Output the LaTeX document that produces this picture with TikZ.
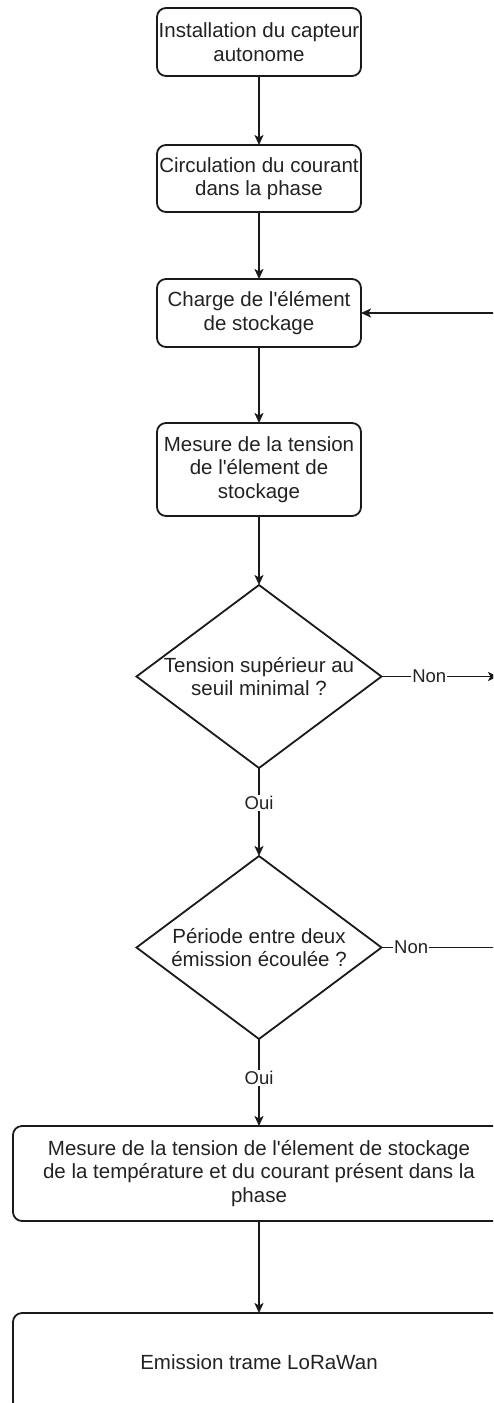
\documentclass[tikz,border=0pt]{standalone}
\usepackage{fontspec}
\setmainfont{Liberation Sans}[Ligatures=TeXOff]
\usepackage{xcolor}
\usepackage{tikz}
\usetikzlibrary{shapes.geometric,arrows.meta}
\definecolor{flowLine}{HTML}{1A1A1A}
\definecolor{flowText}{HTML}{222222}

\begin{document}
\begin{tikzpicture}[
  x=1pt, y=-1pt,
  >={Stealth[length=10pt, width=9pt, inset=2.5pt]},
  line width=1.8pt,
  link/.style={draw=flowLine},
  process/.style={draw=flowLine, rounded corners=9pt, minimum width=204pt,
    inner sep=0pt, outer sep=0pt, align=center, text=flowText,
    font=\fontsize{20.5}{23.5}\selectfont},
  wide process/.style={process, minimum width=492pt},
  decision/.style={diamond, draw=flowLine, minimum width=245pt,
    minimum height=183pt, inner sep=0pt, outer sep=0pt},
  decision text/.style={align=center, text=flowText, inner sep=0pt,
    font=\fontsize{20.5}{23.5}\selectfont},
  branch label/.style={fill=white, inner sep=1pt, text=flowText,
    font=\fontsize{18.5}{20}\selectfont},
]
\useasboundingbox (0,0) rectangle (493,1403);
\clip (0,0) rectangle (493,1403);

% main column
\node[process, minimum height=68pt] (install) at (259,42) {Installation du capteur\\autonome};
\node[process, minimum height=67pt] (courant) at (259,178.5) {Circulation du courant\\dans la phase};
\node[process, minimum height=68pt] (charge) at (259,313) {Charge de l'élément\\de stockage};
\node[process, minimum height=93pt] (tension) at (259,469.5) {Mesure de la tension\\de l'élement de\\stockage};

% tests
\node[decision] (seuil) at (259,676.5) {};
\node[decision text] (seuiltxt) at (seuil) {Tension supérieur au\\seuil minimal ?};
\node[decision] (periode) at (259,947.5) {};
\node[decision text] (periodetxt) at (periode) {Période entre deux\\émission écoulée ?};

% measurement and emission
\node[wide process, minimum height=95pt] (acquis) at (259,1173.5) {Mesure de la tension de l'élement de stockage\\de la température et du courant présent dans la\\phase};
\node[wide process, minimum height=98pt] (emission) at (259,1362) {Emission trame LoRaWan};

% loop back on the right (cut by the frame)
\coordinate (nonA) at (498,676.5);
\coordinate (nonB) at (500,947.5);
\coordinate (retour) at (500,313);

\draw[link, ->] (install) -- (courant);
\draw[link, ->] (courant) -- (charge);
\draw[link, ->] (charge) -- (tension);
\draw[link, ->] (tension) -- (seuil);
\draw[link, ->] (seuil) -- node[branch label, pos=0.4] (ouiA) {Oui} (periode);
\draw[link, ->] (periode) -- node[branch label, pos=0.45] (ouiB) {Oui} (acquis);
\draw[link, ->] (acquis) -- (emission);
\draw[link, ->] (seuil.east) -- node[branch label, pos=0.41] (labnonA) {Non} (nonA);
\draw[link] (periode.east) -- node[branch label, pos=0.25] (labnonB) {Non} (nonB);
\draw[link, ->] (retour) -- (charge.east);

\end{tikzpicture}
\end{document}
